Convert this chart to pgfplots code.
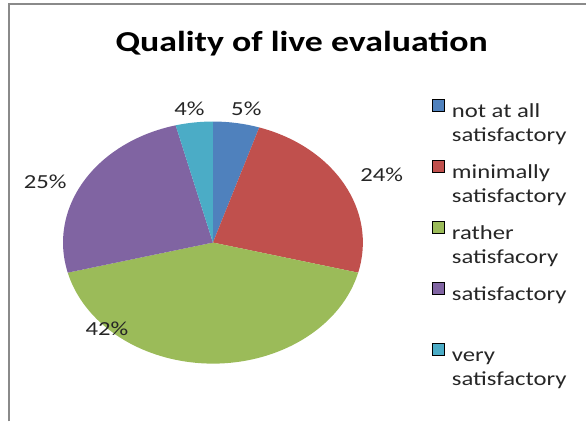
\documentclass[border=0pt]{standalone}
\usepackage{fontspec}
\setmainfont{Carlito}
\usepackage{pgfplots}
\usepackage{pgfplotstable}
\usepackage{graphicx}
\pgfplotsset{compat=1.18}
\definecolor{c0}{HTML}{4F81BD}
\definecolor{c1}{HTML}{C0504D}
\definecolor{c2}{HTML}{9BBB59}
\definecolor{c3}{HTML}{8064A2}
\definecolor{c4}{HTML}{4BACC6}
\definecolor{framegray}{HTML}{8A8A8A}
\newcommand\sx[1]{\scalebox{1.239}[1]{#1}}
\newcommand\twoline[2]{\sx{\begin{tabular}[t]{@{}l@{}}#1\\#2\end{tabular}}}
\pgfplotstableread{
value lx ly
5  245 307
24 381 241
42 105 86
25 43  234
4  188 307
}\piedata
\begin{document}
\xdef\cum{90}
\foreach \i in {0,...,4}{%
  \pgfplotstablegetelem{\i}{value}\of\piedata
  \xdef\curval{\pgfplotsretval}%
  \pgfplotstablegetelem{\i}{lx}\of\piedata
  \xdef\curlx{\pgfplotsretval}%
  \pgfplotstablegetelem{\i}{ly}\of\piedata
  \xdef\curly{\pgfplotsretval}%
  \pgfmathsetmacro\e{\cum-3.6*\curval}%
  \expandafter\xdef\csname ps\i\endcsname{\cum}%
  \expandafter\xdef\csname pe\i\endcsname{\e}%
  \expandafter\xdef\csname pv\i\endcsname{\curval}%
  \expandafter\xdef\csname lx\i\endcsname{\curlx}%
  \expandafter\xdef\csname ly\i\endcsname{\curly}%
  \xdef\cum{\e}%
}%
\begin{tikzpicture}
\begin{axis}[
  width=586pt, height=423pt, scale only axis,
  xmin=0, xmax=586, ymin=0, ymax=423,
  hide axis, clip=false,
  legend style={at={(axis cs:431,324)}, anchor=north west, draw=none, fill=none,
    inner sep=0pt, outer sep=0pt, row sep=41pt, column sep=8pt,
    nodes={inner sep=0pt, text=black!85},
    font=\fontsize{20}{24}\selectfont},
  legend cell align=left,
  legend image code/.code={\fill[#1] (0pt,-1pt) rectangle (12pt,11pt);},
]
\pgfplotsinvokeforeach{0,...,4}{
  \fill[c#1] (axis cs:211.5,179.5) -- (axis cs:{211.5+150.5*cos(\csname ps#1\endcsname)},{179.5+121.5*sin(\csname ps#1\endcsname)})
    arc[start angle=\csname ps#1\endcsname, end angle=\csname pe#1\endcsname, x radius=150.5pt, y radius=121.5pt] -- cycle;
  \node[anchor=base, font=\fontsize{20}{24}\selectfont, text=black!85] at (axis cs:\csname lx#1\endcsname,\csname ly#1\endcsname) {\sx{\csname pv#1\endcsname\%}};
}
\addlegendimage{fill=c0}\addlegendentry{\twoline{not at all}{satisfactory}}
\addlegendimage{fill=c1}\addlegendentry{\twoline{minimally}{satisfactory}}
\addlegendimage{fill=c2}\addlegendentry{\twoline{rather}{satisfacory}}
\addlegendimage{fill=c3}\addlegendentry{\twoline{satisfactory}{\strut}}
\addlegendimage{fill=c4}\addlegendentry{\twoline{very}{satisfactory}}
\node[anchor=base, font=\fontsize{29}{34}\selectfont\bfseries] at (axis cs:300.5,371) {\sx{Quality of live evaluation}};
\draw[line width=2pt, framegray] (axis cs:6.5,0) -- (axis cs:6.5,419) -- (axis cs:586,419);
\end{axis}
\pgfresetboundingbox
\useasboundingbox (current axis.south west) rectangle (current axis.north east);
\end{tikzpicture}
\end{document}
